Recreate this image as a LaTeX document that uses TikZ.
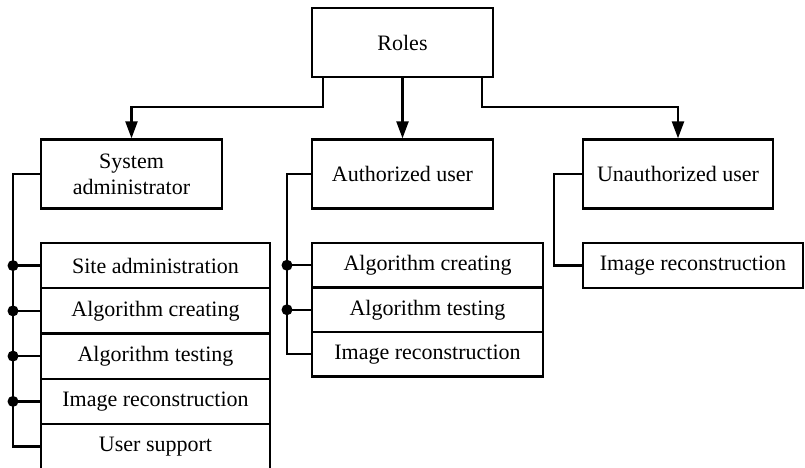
\documentclass[tikz,border=0pt]{standalone}
\usepackage{fontspec}
\setmainfont{Liberation Serif}
\usetikzlibrary{arrows.meta}
\begin{document}
\begin{tikzpicture}[x=1pt,y=-1pt,line width=2.3pt,line join=miter,
  box/.style={draw,rectangle,inner sep=0pt,align=center,
    font=\fontsize{22}{26}\selectfont},
  role/.style={box,minimum height=69pt},
  sysitem/.style={box,minimum width=229pt,minimum height=45.25pt},
  authitem/.style={box,minimum width=231pt,minimum height=44.5pt},
  guestitem/.style={box,minimum width=220pt,minimum height=45pt},
  feed/.style={-{Triangle[length=17pt,width=12pt]}},
  joint/.style={circle,fill,inner sep=0pt,minimum size=11pt}]
\useasboundingbox (0,0) rectangle (805,468);
\clip (0,0) rectangle (805,468);

% role boxes
\node[role,minimum width=181pt] (roles)  at (402.5,42.5) {Roles};
\node[role,minimum width=181pt] (sys)    at (131.5,174)  {System\\administrator};
\node[role,minimum width=181pt] (auth)   at (402.5,174)  {Authorized user};
\node[role,minimum width=190pt] (unauth) at (678,174)    {Unauthorized user};

% permissions of the system administrator
\node[sysitem] (s1) at (155.5,265.6) {Site administration};
\node[sysitem] (s2) at (155.5,310.9) {Algorithm creating};
\node[sysitem] (s3) at (155.5,356.1) {Algorithm testing};
\node[sysitem] (s4) at (155.5,401.4) {Image reconstruction};
\node[sysitem] (s5) at (155.5,446.6) {User support};

% permissions of the authorized user
\node[authitem] (a1) at (427.5,265.25) {Algorithm creating};
\node[authitem] (a2) at (427.5,309.75) {Algorithm testing};
\node[authitem] (a3) at (427.5,354.25) {Image reconstruction};

% permission of the unauthorized user
\node[guestitem] (u1) at (693,265.5) {Image reconstruction};

% arrows from the root
\draw[feed] ([xshift=-79.5pt]roles.south) -- ++(0,29) -| (sys.north);
\draw[feed] (roles.south) -- (auth.north);
\draw[feed] ([xshift=79.5pt]roles.south) -- ++(0,29) -| (unauth.north);

% buses to the permission lists
\coordinate (busS) at (13,0);
\coordinate (busA) at (287,0);
\coordinate (busU) at (554,0);

\draw (sys.west) -| (busS |- s5.west) -- (s5.west);
\foreach \n in {s1,s2,s3,s4}
  \draw (\n.west) -- (busS |- \n.west) node[joint] {};

\draw (auth.west) -| (busA |- a3.west) -- (a3.west);
\foreach \n in {a1,a2}
  \draw (\n.west) -- (busA |- \n.west) node[joint] {};

\draw (unauth.west) -| (busU |- u1.west) -- (u1.west);
\end{tikzpicture}
\end{document}
